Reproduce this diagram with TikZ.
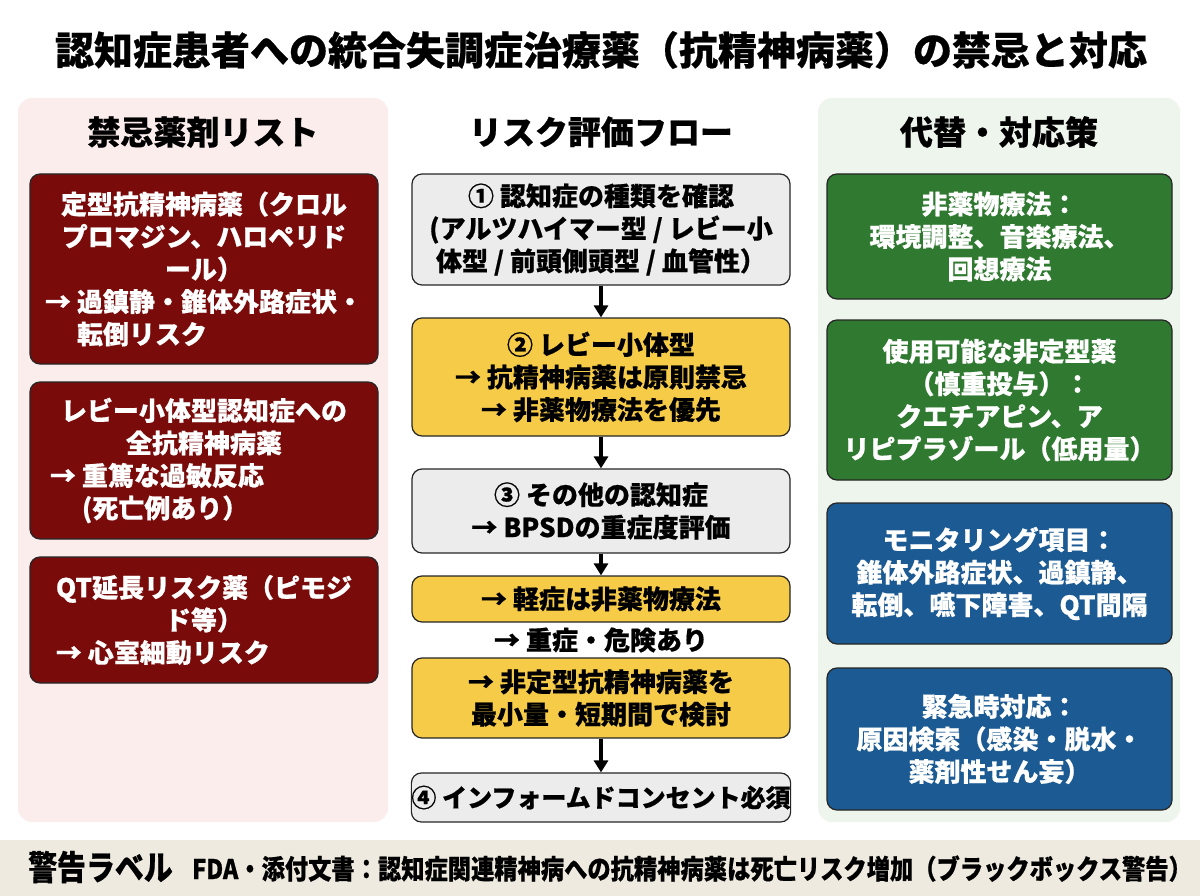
\documentclass[tikz,border=0pt]{standalone}
\usepackage{fontspec}
\setmainfont{Noto Sans CJK JP}[BoldFeatures={FakeBold=0.6}]
\usepackage{calc}
\usepackage{graphicx}
\usetikzlibrary{arrows.meta}
\definecolor{pinkbg}{HTML}{FCEDED}
\definecolor{greenbg}{HTML}{EEF5EC}
\definecolor{dred}{HTML}{7A0B0B}
\definecolor{dgreen}{HTML}{2F7A30}
\definecolor{dblue}{HTML}{1B5A92}
\definecolor{yel}{HTML}{F6CB47}
\definecolor{greyb}{HTML}{ECECEC}
\definecolor{barbg}{HTML}{EEEADF}
\begin{document}
\begin{tikzpicture}[x=1pt,y=-1pt,
  panel/.style={draw=none, rounded corners=14pt, inner sep=0pt},
  box/.style={draw=black!85, line width=1.2pt, rounded corners=10pt, align=center, inner sep=0pt,
    font=\bfseries\fontsize{26}{32.5}\selectfont},
  redbox/.style={box, fill=dred, text=white, minimum width=348pt},
  greenbox/.style={box, fill=dgreen, text=white, minimum width=345pt},
  bluebox/.style={box, fill=dblue, text=white, minimum width=345pt},
  greybox/.style={box, fill=greyb, text=black, minimum width=378pt},
  yelbox/.style={box, fill=yel, text=black, minimum width=378pt},
  header/.style={font=\bfseries\fontsize{33}{38}\selectfont, inner sep=0pt},
  flow/.style={line width=3.2pt, -{Triangle[length=12pt,width=14pt]}}
]
\useasboundingbox (0,0) rectangle (1200,896);
\fill[white] (0,0) rectangle (1200,896);

% title
\node[font=\bfseries\fontsize{39}{44}\selectfont, inner sep=0pt] (title) at (601,50) {認知症患者への統合失調症治療薬（抗精神病薬）の禁忌と対応};

% panels
\node[panel, fill=pinkbg, minimum width=370pt, minimum height=724pt] (lp) at (203,460) {};
\node[panel, fill=greenbg, minimum width=362pt, minimum height=724pt] (rp) at (999,460) {};

% headers
\node[header] (lh) at (203,132) {禁忌薬剤リスト};
\node[header] (mh) at (601,132) {リスク評価フロー};
\node[header] (rh) at (999,132) {代替・対応策};

% left boxes
\node[redbox, minimum height=190pt] (l1) at (204,269) {定型抗精神病薬（クロル\\プロマジン、ハロペリド\\ール）\\→ 過鎮静・錐体外路症状・\\\makebox[\widthof{→ 過鎮静・錐体外路症状・}][l]{\phantom{→ }転倒リスク}};
\node[redbox, minimum height=157pt] (l2) at (204,460.5) {レビー小体型認知症への\\全抗精神病薬\\\makebox[\widthof{レビー小体型認知症への}+22pt][l]{→ 重篤な過敏反応}\\\makebox[\widthof{レビー小体型認知症への}+22pt][l]{\phantom{→ }(死亡例あり）}};
\node[redbox, minimum height=126pt] (l3) at (204,620) {QT延長リスク薬（ピモジ\\ド等）\\\makebox[\widthof{QT延長リスク薬（ピモジ}][l]{→ 心室細動リスク}};

% middle flow
\node[greybox, minimum height=111pt] (m1) at (601,229.5) {① 認知症の種類を確認\\(アルツハイマー型 / レビー小\\体型 / 前頭側頭型 / 血管性）};
\node[yelbox, minimum height=118pt] (m2) at (601,377) {② レビー小体型\\→ 抗精神病薬は原則禁忌\\→ 非薬物療法を優先};
\node[greybox, minimum height=84pt] (m3) at (601,511) {③ その他の認知症\\→ BPSDの重症度評価};
\node[yelbox, minimum height=46pt] (m4) at (601,599) {→ 軽症は非薬物療法};
\node[font=\bfseries\fontsize{26}{32}\selectfont, inner sep=0pt] (m45) at (601,640) {→ 重症・危険あり};
\node[yelbox, minimum height=80pt] (m5) at (601,698) {→ 非定型抗精神病薬を\\最小量・短期間で検討};
\node[greybox, minimum height=49pt, font=\bfseries\fontsize{25}{32}\selectfont] (m6) at (601,797.5) {④ インフォームドコンセント必須};

\draw[flow] (m1.south) -- (m2.north);
\draw[flow] (m2.south) -- (m3.north);
\draw[flow] (m3.south) -- (m4.north);
\draw[flow] (m5.south) -- (m6.north);

% right boxes
\node[greenbox, minimum height=125pt] (r1) at (999.5,236.5) {非薬物療法：\\環境調整、音楽療法、\\回想療法};
\node[greenbox, minimum height=160pt] (r2) at (999.5,400) {使用可能な非定型薬\\（慎重投与）：\\クエチアピン、ア\\リピプラゾール（低用量）};
\node[bluebox, minimum height=141pt] (r3) at (999.5,573.5) {モニタリング項目：\\錐体外路症状、過鎮静、\\転倒、嚥下障害、QT間隔};
\node[bluebox, minimum height=142pt] (r4) at (999.5,739) {緊急時対応：\\原因検索（感染・脱水・\\薬剤性せん妄）};

% bottom bar
\node[draw=none, fill=barbg, minimum width=1200pt, minimum height=56pt, inner sep=0pt] (bar) at (600,868) {};
\node[anchor=base west, inner sep=0pt, font=\bfseries\fontsize{34}{40}\selectfont] (warn) at (28,880) {\scalebox{0.85}[1]{警告ラベル}};
\node[anchor=base west, inner sep=0pt, font=\bfseries\fontsize{27}{32}\selectfont] (warntext) at (192,879) {\scalebox{0.862}[1]{FDA・添付文書：認知症関連精神病への抗精神病薬は死亡リスク増加（ブラックボックス警告）}};
\end{tikzpicture}
\end{document}
